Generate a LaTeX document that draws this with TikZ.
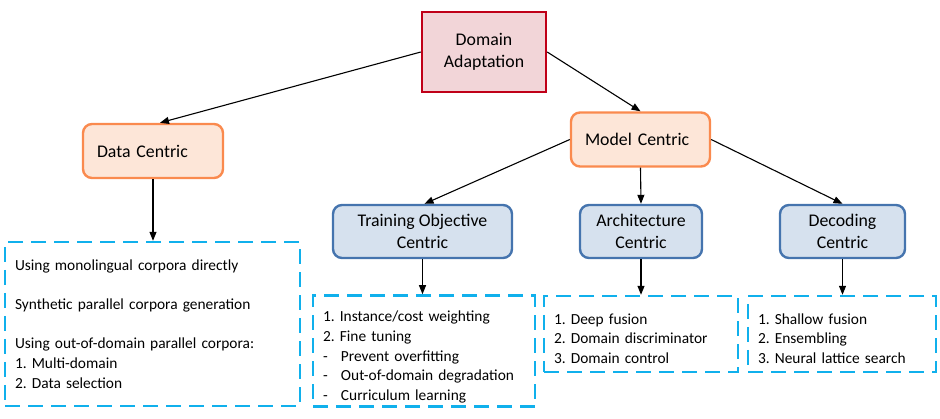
\documentclass[tikz,border=0pt]{standalone}
\usepackage{fontspec}
\setmainfont{Carlito}
\usepackage{tikz}
\usetikzlibrary{positioning}
\usetikzlibrary{arrows.meta}
\frenchspacing
\definecolor{darkred}{HTML}{C00018}
\definecolor{pinkfill}{HTML}{F2D5D8}
\definecolor{orangeline}{HTML}{FA8A4E}
\definecolor{orangefill}{HTML}{FDE6D8}
\definecolor{blueline}{HTML}{4574AE}
\definecolor{bluefill}{HTML}{D6E1EE}
\definecolor{cyanline}{HTML}{10B0EC}
\tikzstyle{arrow}=[-{Triangle[length=9pt,width=7pt]},line width=1.1pt,black]
\tikzstyle{topbox}=[draw=darkred,fill=pinkfill,line width=2.4pt,align=center,
	minimum width=124pt,minimum height=80pt,font=\fontsize{17.8}{21.5}\selectfont]
\tikzstyle{mainbox}=[draw=orangeline,fill=orangefill,line width=2.4pt,rounded corners=9pt,
	align=left,inner xsep=14pt,text width=112pt,minimum height=54pt,font=\fontsize{17.8}{21.5}\selectfont]
\tikzstyle{subbox}=[draw=blueline,fill=bluefill,line width=2.4pt,rounded corners=9pt,
	align=center,minimum height=53pt,font=\fontsize{17.8}{21.5}\selectfont]
\tikzstyle{listbox}=[draw=cyanline,line width=2.4pt,dash pattern=on 15pt off 8pt,
	align=left,inner xsep=10pt,font=\fontsize{15.4}{19.7}\selectfont]
\newcommand{\dashitem}[1]{\makebox[18pt][l]{-}#1}
\begin{document}
\begin{tikzpicture}[x=1pt,y=-1pt]
	\useasboundingbox (0,0) rectangle (940,419);
	% top and second level
	\node[topbox]  (da)  at (484,52)      {Domain\\Adaptation};
	\node[mainbox] (dc)  at (153,151)     {Data Centric};
	\node[mainbox,text width=111pt] (mc) at (640.5,139.5) {Model Centric};
	% third level
	\node[subbox,minimum width=179pt] (toc)  at (422.5,231.5) {Training Objective\\Centric};
	\node[subbox,minimum width=122pt] (arch) at (641,231.5)   {Architecture\\Centric};
	\node[subbox,minimum width=125pt] (dec)  at (842.5,231.5) {Decoding\\Centric};
	% lists
	\node[listbox,text width=275pt,minimum height=164pt] (dclist) at (152.5,324) {Using monolingual corpora directly\\[19.7pt]
		Synthetic parallel corpora generation\\[19.7pt]
		Using out-of-domain parallel corpora:\\1. Multi-domain\\2. Data selection};
	\node[listbox,text width=202pt,minimum height=110pt] (toclist) at (424,351) {\rule{0pt}{23pt}1. Instance/cost weighting\\2. Fine tuning\\
		\dashitem{Prevent overfitting}\\\dashitem{Out-of-domain degradation}\\\dashitem{Curriculum learning}};
	\node[listbox,text width=174pt,minimum height=76pt] (archlist) at (641,334) {\rule{0pt}{20pt}1. Deep fusion\\2. Domain discriminator\\3. Domain control};
	\node[listbox,text width=168pt,minimum height=76pt] (declist) at (842,334) {\rule{0pt}{20pt}1. Shallow fusion\\2. Ensembling\\3. Neural lattice search};
	% connectors
	\draw[arrow] (da.west) -- ([xshift=7pt]dc.north);
	\draw[arrow] (da.east) -- (mc.north);
	\draw[arrow] (mc.west) -- ([xshift=2pt]toc.north);
	\draw[arrow] (mc.south) -- (arch.north);
	\draw[arrow] (mc.east) -- (dec.north);
	\foreach \a/\b in {dc/dclist,toc/toclist,arch/archlist,dec/declist} {
		\draw[arrow] (\a.south) -- (\a.south |- \b.north);}
\end{tikzpicture}
\end{document}
